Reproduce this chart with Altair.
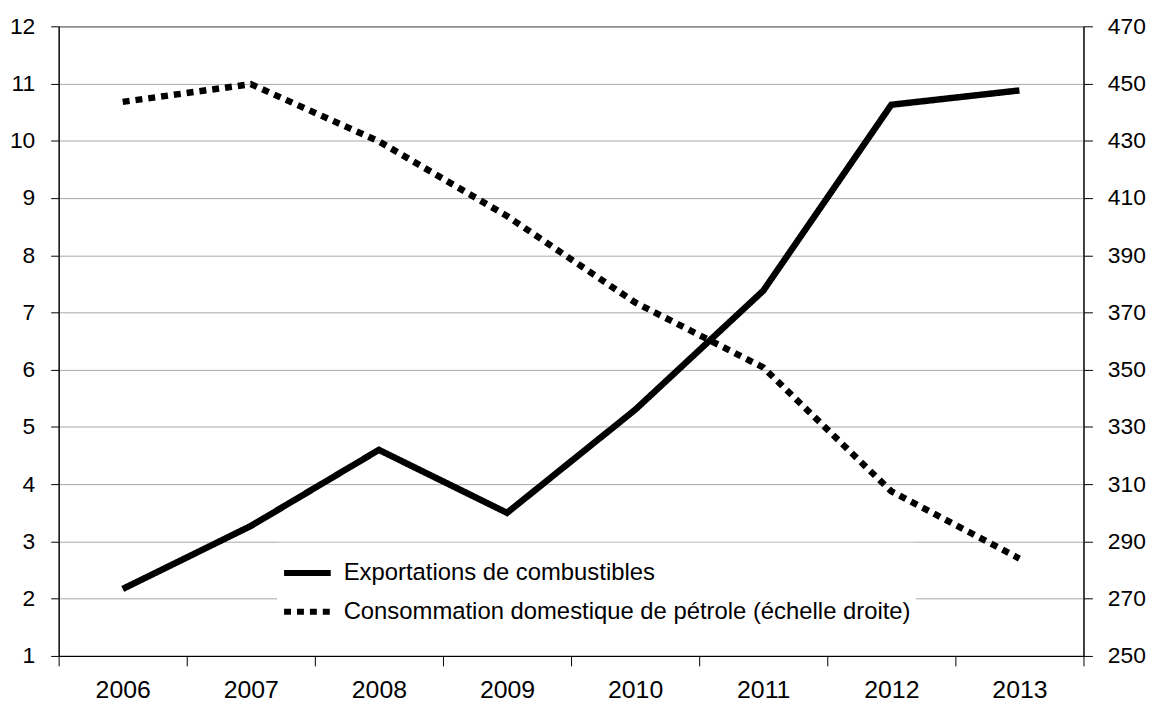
import altair as alt
import pandas as pd

years = [2006, 2007, 2008, 2009, 2010, 2011, 2012, 2013]
exports = [2.17, 3.27, 4.60, 3.50, 5.30, 7.38, 10.63, 10.88]
consumption = [443.6, 449.8, 429.8, 403.7, 373.5, 350.8, 307.5, 284.0]
series_names = ["Exportations de combustibles",
                "Consommation domestique de pétrole (échelle droite)"]
left_ticks = list(range(1, 13))
right_ticks = list(range(250, 471, 20))
boundaries = [y - 0.5 for y in years] + [years[-1] + 0.5]

FONT = "Liberation Sans"

df_a = pd.DataFrame({"year": years, "value": exports, "series": series_names[0]})
df_b = pd.DataFrame({"year": years, "value": consumption, "series": series_names[1]})

xscale = alt.Scale(domain=[years[0] - 0.5, years[-1] + 0.5], nice=False, zero=False)
dash = alt.StrokeDash(
    "series:N",
    scale=alt.Scale(domain=series_names, range=[[1, 0], [7, 6]]),
    legend=alt.Legend(
        title=None, orient="none", legendX=220, legendY=520,
        symbolType="stroke", symbolSize=2209, symbolStrokeWidth=6,
        symbolStrokeColor="black", labelFont=FONT, labelFontSize=24,
        labelColor="black", labelOffset=10, rowPadding=-3, padding=4,
        fillColor="white", strokeColor="white", labelLimit=900,
    ),
)

line_a = alt.Chart(df_a).mark_line(color="black", strokeWidth=6.5, strokeCap="butt",
                                   strokeJoin="miter").encode(
    x=alt.X("year:Q", scale=xscale,
            axis=alt.Axis(orient="bottom", values=years, format="d", ticks=False,
                          labelFont=FONT, labelFontSize=25, labelColor="black",
                          labelPadding=22, domainColor="black", grid=False, title=None,
                          labelFlush=False)),
    y=alt.Y("value:Q", scale=alt.Scale(domain=[1, 12], nice=False, zero=False),
            axis=alt.Axis(orient="left", values=left_ticks, tickSize=8, tickColor="black",
                          labelFont=FONT, labelFontSize=23, labelColor="black",
                          labelPadding=16, domainColor="black", grid=True,
                          gridColor="#a8a8a8", gridWidth=1, title=None)),
    strokeDash=dash,
)

line_b = alt.Chart(df_b).mark_line(color="black", strokeWidth=6.5, strokeCap="butt",
                                   strokeJoin="miter").encode(
    x=alt.X("year:Q", scale=xscale,
            axis=alt.Axis(orient="bottom", values=boundaries, labels=False, tickSize=10,
                          tickColor="black", domainColor="black", grid=False, title=None)),
    y=alt.Y("value:Q", scale=alt.Scale(domain=[250, 470], nice=False, zero=False),
            axis=alt.Axis(orient="right", values=right_ticks, tickSize=9, tickColor="black",
                          labelFont=FONT, labelFontSize=23, labelColor="black",
                          labelPadding=15, domainColor="black", grid=False, title=None)),
    strokeDash=dash,
)

chart = alt.layer(line_a, line_b).resolve_scale(y="independent").resolve_axis(
    x="independent", y="independent"
).properties(
    width=1032, height=634,
    autosize=alt.AutoSizeParams(type="none"),
    padding={"left": 51, "top": 16, "right": 70, "bottom": 52},
    background="white",
).configure_view(stroke="black", strokeWidth=1)

chart.save("out.html", embed_options={"renderer": "svg", "actions": False})
